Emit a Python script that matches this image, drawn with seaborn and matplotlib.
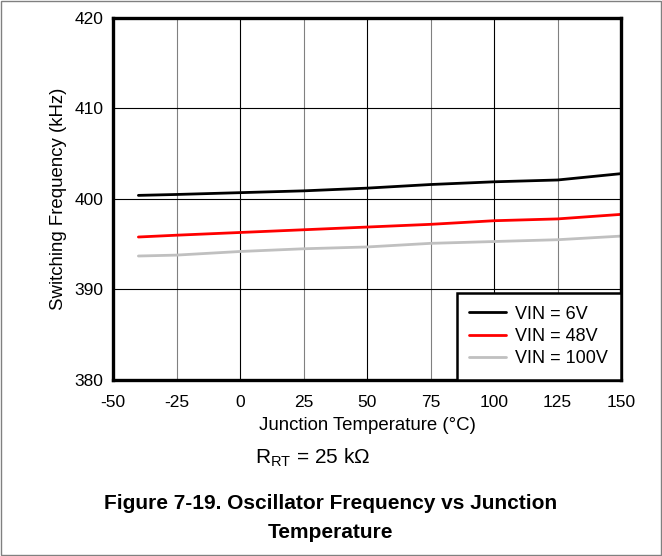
import pandas as pd
import matplotlib.pyplot as plt
import seaborn as sns
from matplotlib.patches import Rectangle

# values
temps = [-40, -25, 0, 25, 50, 75, 100, 125, 150]
vin_6 = [400.4, 400.5, 400.7, 400.9, 401.2, 401.6, 401.9, 402.1, 402.8]
vin_48 = [395.8, 396.0, 396.3, 396.6, 396.9, 397.2, 397.6, 397.8, 398.3]
vin_100 = [393.7, 393.8, 394.2, 394.5, 394.7, 395.1, 395.3, 395.5, 395.9]
series_names = ['VIN = 6V', 'VIN = 48V', 'VIN = 100V']
x_ticks = [-50, -25, 0, 25, 50, 75, 100, 125, 150]
y_ticks = [380, 390, 400, 410, 420]

df = pd.concat([
    pd.DataFrame({'temp': temps, 'freq': vals, 'series': name})
    for name, vals in zip(series_names, [vin_6, vin_48, vin_100])
])

sns.set_style('white')
plt.rcParams['font.family'] = ['Liberation Sans', 'DejaVu Sans']
plt.rcParams['axes.unicode_minus'] = False
plt.rcParams['text.color'] = 'black'
plt.rcParams['axes.labelcolor'] = 'black'
plt.rcParams['xtick.color'] = 'black'
plt.rcParams['ytick.color'] = 'black'

fig = plt.figure(figsize=(6.62, 5.56), dpi=100)
ax = fig.add_axes([113 / 662, 1 - 380 / 556, 508 / 662, 362 / 556])

sns.lineplot(
    data=df, x='temp', y='freq', hue='series',
    palette=['black', '#ff0000', '#c0c0c0'],
    linewidth=2, ax=ax,
)

ax.set_xlim(-50, 150)
ax.set_ylim(380, 420)
ax.set_xticks(x_ticks)
ax.set_yticks(y_ticks)
ax.tick_params(length=0, labelsize=12.5)
ax.tick_params(axis='x', pad=11)
ax.tick_params(axis='y', pad=7)
ax.grid(True, color='black', linewidth=0.8)
# alternate the vertical gridlines between gray and black
for i, gl in enumerate(ax.get_xgridlines()):
    if i % 2 == 1:
        gl.set_color('#808080')
for s in ax.spines.values():
    s.set_linewidth(2.4)
    s.set_color('black')
    s.set_zorder(5)

ax.set_xlabel('Junction Temperature (°C)', fontsize=13.4, labelpad=5)
ax.set_ylabel('Switching Frequency (kHz)', fontsize=13.4, labelpad=5)

leg = ax.legend(loc='lower right', fontsize=13, frameon=True, fancybox=False,
                borderaxespad=0, handlelength=2.0, labelspacing=0.3,
                borderpad=0.7, handletextpad=0.55)
leg.get_frame().set_edgecolor('black')
leg.get_frame().set_linewidth(1.8)
leg.get_frame().set_alpha(1)
leg.set_zorder(6)

fig.text(313 / 662, 1 - 458 / 556, r'R$_\mathregular{RT}$ = 25 k$\mathregular{\Omega}$',
         ha='center', va='center', fontsize=15)
fig.text(0.5, 1 - 518 / 556, 'Figure 7-19. Oscillator Frequency vs Junction\nTemperature',
         ha='center', va='center', fontsize=15, fontweight='bold', linespacing=1.7)

fig.patches.append(Rectangle((0.001, 0.001), 0.997, 0.997, transform=fig.transFigure,
                             fill=False, edgecolor='#808080', linewidth=1))

fig.savefig('out.png', dpi=100)
